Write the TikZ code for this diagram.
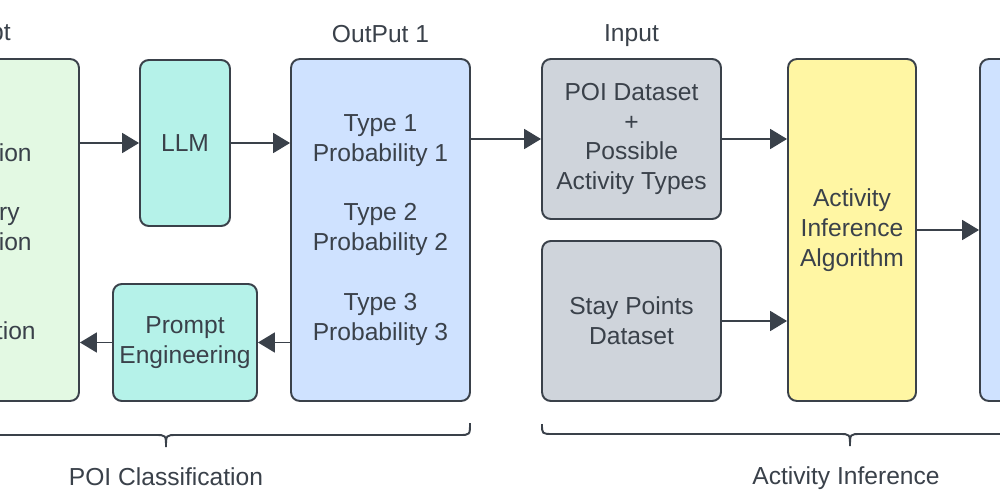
\documentclass[tikz,border=0pt]{standalone}
\usepackage{fontspec}
\setmainfont{Liberation Sans}
\usetikzlibrary{arrows.meta, positioning, calc}
\definecolor{inkgray}{RGB}{58, 65, 74}
\definecolor{promptgreen}{RGB}{227, 249, 227}
\definecolor{llmteal}{RGB}{181, 242, 233}
\definecolor{outblue}{RGB}{207, 226, 255}
\definecolor{datagray}{RGB}{207, 212, 219}
\definecolor{algoyellow}{RGB}{255, 246, 163}

\begin{document}
\begin{tikzpicture}[x=0.02cm, y=-0.02cm,
  box/.style={draw=inkgray, line width=1.1pt, rounded corners=5pt, align=center,
    text=inkgray, font=\fontsize{14}{17}\selectfont, inner sep=0pt},
  lbl/.style={text=inkgray, font=\fontsize{14}{17}\selectfont, inner sep=0pt},
  arr/.style={-{Triangle[length=0.34cm, width=0.4cm]}, draw=inkgray, line width=1.1pt}]
\useasboundingbox (0,0) rectangle (1000,500);
\clip (0,0) rectangle (1000,500);
\fill[white] (0,0) rectangle (1000,500);

% poi classification
\node[box, fill=promptgreen, minimum width=3.98cm, minimum height=6.84cm] (prompt) at (-20.5,230) {};
\node[box, fill=llmteal, minimum width=1.8cm, minimum height=3.32cm] (llm) at (185,143) {LLM};
\node[box, fill=llmteal, minimum width=2.88cm, minimum height=2.34cm] (engineer) at (185,342.5) {Prompt\\Engineering};
\node[box, fill=outblue, minimum width=3.58cm, minimum height=6.84cm] (output) at (380.5,230)
  {Type 1\\Probability 1\\[17pt]Type 2\\Probability 2\\[17pt]Type 3\\Probability 3};

% activity inference
\node[box, fill=datagray, minimum width=3.58cm, minimum height=3.2cm] (poidata) at (631.5,139)
  {POI Dataset\\+\\Possible\\Activity Types};
\node[box, fill=datagray, minimum width=3.58cm, minimum height=3.2cm] (staydata) at (631.5,321)
  {Stay Points\\Dataset};
\node[box, fill=algoyellow, minimum width=2.56cm, minimum height=6.84cm] (algo) at (852,230)
  {Activity\\Inference\\Algorithm};
\node[box, fill=outblue, minimum width=3.6cm, minimum height=6.84cm] (result) at (1070,230) {};

% cut-off text
\node[lbl, anchor=base east] (promptlbl) at (11,41) {pt};
\node[lbl, anchor=base east] (frag1) at (32,161) {ion};
\node[lbl, anchor=base east] (frag2) at (20,220) {ry};
\node[lbl, anchor=base east] (frag3) at (32,250) {ion};
\node[lbl, anchor=base east] (frag4) at (36,339) {tion};

\node[lbl, anchor=base] (outlbl) at (380.5,43) {OutPut 1};
\node[lbl, anchor=base] (inlbl) at (631.5,42) {Input};
\node[lbl, anchor=base] (poicls) at (166,485) {POI Classification};
\node[lbl, anchor=base] (actinf) at (846,484) {Activity Inference};

\draw[arr] (prompt.east |- llm.west) -- (llm.west);
\draw[arr] (llm.east) -- (llm.east -| output.west);
\draw[arr] (output.west |- engineer.east) -- (engineer.east);
\draw[arr] (engineer.west) -- (engineer.west -| prompt.east);
\draw[arr] (output.east |- poidata.west) -- (poidata.west);
\draw[arr] (poidata.east) -- (poidata.east -| algo.west);
\draw[arr] (staydata.east) -- (staydata.east -| algo.west);
\draw[arr] (algo.east) -- (result.west);

% braces
\draw[inkgray, line width=1.1pt] (-10,435) -- (155,435) .. controls (166,435) .. (166,447)
  .. controls (166,435) .. (177,435) -- (459,435) .. controls (470,435) .. (470,423);
\draw[inkgray, line width=1.1pt] (542,424) .. controls (542,434) .. (553,434) -- (839,434)
  .. controls (850,434) .. (850,446) .. controls (850,434) .. (861,434) -- (1010,434);
\end{tikzpicture}
\end{document}
